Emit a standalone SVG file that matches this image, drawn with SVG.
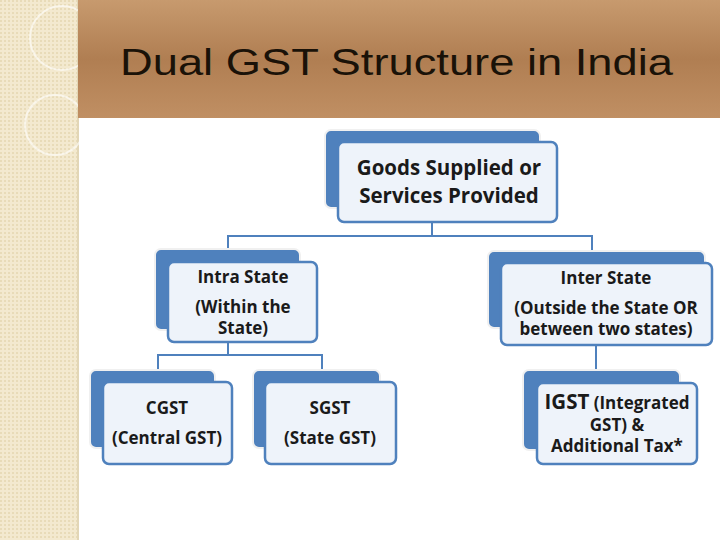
<svg xmlns="http://www.w3.org/2000/svg" width="720" height="540" viewBox="0 0 720 540">
<defs>
<linearGradient id="wood" x1="0" y1="0" x2="0" y2="1">
<stop offset="0" stop-color="#c79a6e"/><stop offset="0.5" stop-color="#b07e52"/><stop offset="1" stop-color="#c08f63"/>
</linearGradient>
<pattern id="dots" width="4" height="4" patternUnits="userSpaceOnUse">
<rect width="4" height="4" fill="#f3e9cf"/><rect width="2" height="2" fill="#e8dbb8"/>
</pattern>
</defs>
<style>
.back{fill:#4f81bd;stroke:#f0f0f0;stroke-width:2}
.front{fill:#eef3fa;stroke:#4f81bd;stroke-width:2.5}
.t{font-family:"Open Sans","Liberation Sans",sans-serif;font-weight:bold;font-size:17px;fill:#1a1a1a;text-anchor:middle}
.big{font-size:20.5px}
.c{fill:none;stroke:#4f81bd;stroke-width:2}
</style>
<rect width="720" height="540" fill="#ffffff"/>
<rect x="0" y="0" width="78" height="540" fill="url(#dots)"/>
<line x1="78" y1="0" x2="78" y2="540" stroke="#e2d6b6" stroke-width="2"/>
<circle cx="62" cy="38" r="32" fill="none" stroke="#ffffff" stroke-width="2" opacity="0.6"/>
<circle cx="55" cy="125" r="30" fill="none" stroke="#ffffff" stroke-width="2" opacity="0.6"/>
<rect x="78" y="0" width="642" height="118" fill="url(#wood)"/>
<text x="120" y="75" font-family="Liberation Sans,Arial,sans-serif" font-size="36" textLength="553" lengthAdjust="spacingAndGlyphs" fill="#1a1208">Dual GST Structure in India</text>
<g id="connectors">
<path class="c" d="M432 222 V236 M228 248 V236 H592 V250"/>
<path class="c" d="M228 342 V355 M158 370 V355 H322 V370"/>
<path class="c" d="M596 345 V370"/>
</g>
<g id="n-goods">
<rect class="back" x="325" y="130" width="215" height="78" rx="6"/>
<rect class="front" x="338" y="142" width="219" height="80" rx="6"/>
<text class="t big" x="449" y="175">Goods Supplied or</text>
<text class="t big" x="449" y="203">Services Provided</text>
</g>
<g id="n-intra">
<rect class="back" x="155" y="249" width="145" height="81" rx="6"/>
<rect class="front" x="168" y="262" width="149" height="80" rx="6"/>
<text class="t" x="243" y="283">Intra State</text>
<text class="t" x="243" y="313">(Within the</text>
<text class="t" x="243" y="334">State)</text>
</g>
<g id="n-inter">
<rect class="back" x="488" y="251" width="217" height="77" rx="6"/>
<rect class="front" x="501" y="263" width="211" height="82" rx="6"/>
<text class="t" x="606" y="284">Inter State</text>
<text class="t" x="606" y="314">(Outside the State OR</text>
<text class="t" x="606" y="335">between two states)</text>
</g>
<g id="n-cgst">
<rect class="back" x="90" y="370" width="125" height="78" rx="6"/>
<rect class="front" x="103" y="382" width="129" height="82" rx="6"/>
<text class="t" x="167" y="414">CGST</text>
<text class="t" x="167" y="444">(Central GST)</text>
</g>
<g id="n-sgst">
<rect class="back" x="253" y="370" width="127" height="78" rx="6"/>
<rect class="front" x="265" y="382" width="131" height="82" rx="6"/>
<text class="t" x="330" y="414">SGST</text>
<text class="t" x="330" y="444">(State GST)</text>
</g>
<g id="n-igst">
<rect class="back" x="523" y="370" width="157" height="80" rx="6"/>
<rect class="front" x="537" y="383" width="160" height="81" rx="6"/>
<text class="t" x="617" y="409"><tspan class="big">IGST</tspan> (Integrated</text>
<text class="t" x="617" y="431">GST) &amp;</text>
<text class="t" x="617" y="452">Additional Tax*</text>
</g>
</svg>
